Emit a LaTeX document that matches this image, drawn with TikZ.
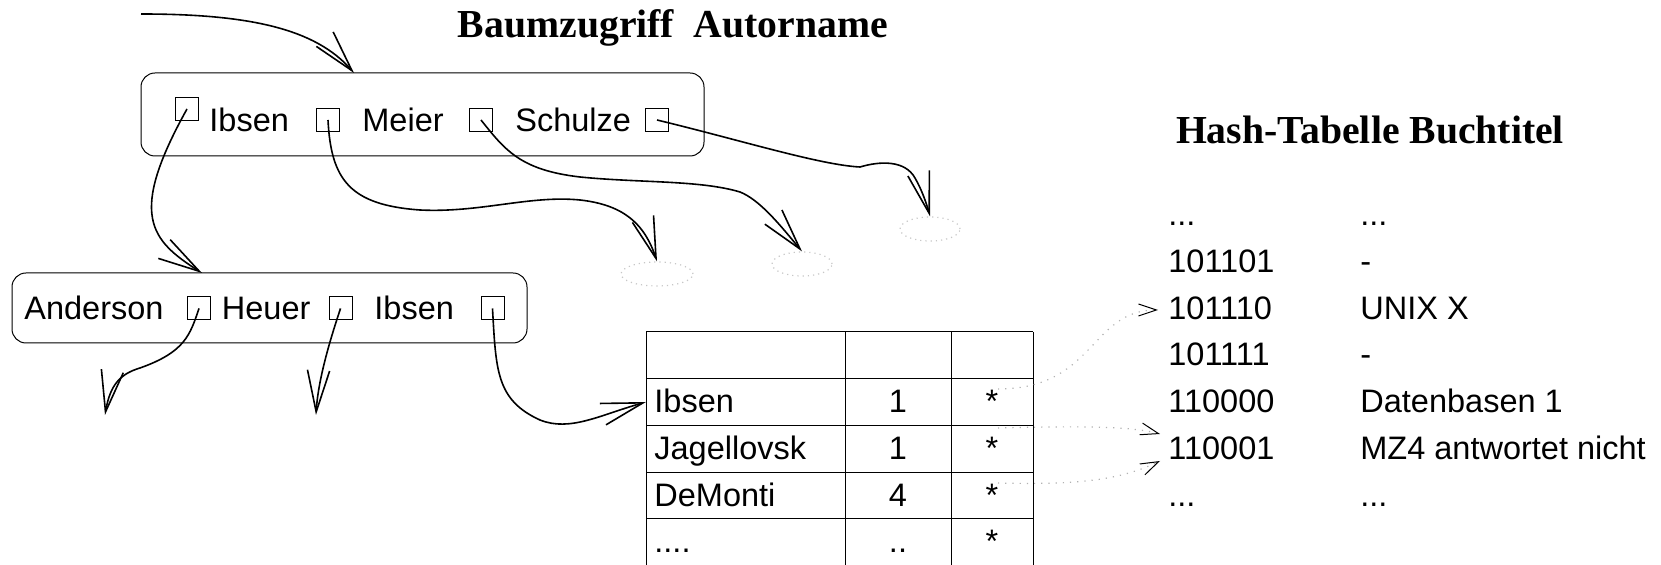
\documentclass[tikz,border=0pt]{standalone}
\usepackage{fontspec}
\setmainfont{Liberation Sans}
\newfontfamily\ttlfamily{Liberation Serif}
\usetikzlibrary{arrows.meta,shapes.geometric}
\newcommand\bodysz{\fontsize{16.25}{19}\selectfont}
\newcommand\ttlsz{\ttlfamily\bfseries\fontsize{19.85}{24}\selectfont}
\tikzset{
  box/.style={draw, line width=0.5pt, rounded corners=7pt, inner sep=0pt},
  ptr/.style={draw, line width=0.5pt, minimum size=11.5pt, inner sep=0pt},
  lbl/.style={anchor=base west, inner sep=0pt, font=\bodysz},
  num/.style={anchor=base, inner sep=0pt, font=\bodysz},
  ttl/.style={anchor=base, inner sep=0pt, font=\ttlsz},
  conn/.style={line width=0.8pt, -{Straight Barb[length=20.8pt,width=11.1pt]}},
  hashconn/.style={draw=black!30, line width=0.6pt, dash pattern=on 0.6pt off 3pt,
     -{Straight Barb[length=9pt,width=6pt,color=black,line width=0.5pt]}},
  ghost/.style={ellipse, draw=black!22, line width=0.6pt, dash pattern=on 0.6pt off 2pt,
     minimum height=12pt, inner sep=0pt},
  tabline/.style={line width=0.5pt},
}
\begin{document}
\begin{tikzpicture}[x=0.5pt,y=-0.5pt]
\useasboundingbox (0,0) rectangle (1661,565);
% titles
\node[ttl] (t1) at (673,38) {Baumzugriff\ \ Autorname};
\node[ttl] (t2) at (1370,144) {Hash-Tabelle Buchtitel};
% top box
\node[box, minimum width=281.5pt, minimum height=41.5pt] (tb) at (422.5,114.5) {};
\node[ptr] (ts1) at (187,109) {};
\node[ptr] (ts2) at (328,120) {};
\node[ptr] (ts3) at (481,120) {};
\node[ptr] (ts4) at (657,120) {};
\node[lbl] (tl1) at (209,132) {Ibsen};
\node[lbl] (tl2) at (362,132) {Meier};
\node[lbl] (tl3) at (515,132) {Schulze};
% lower box
\node[box, minimum width=257.5pt, minimum height=35pt] (lb) at (269.5,308) {};
\node[ptr] (ls1) at (199,308.5) {};
\node[ptr] (ls2) at (340.5,308.5) {};
\node[ptr] (ls3) at (492.5,308.5) {};
\node[lbl] (ll1) at (24,320) {Anderson};
\node[lbl] (ll2) at (221.5,320) {Heuer};
\node[lbl] (ll3) at (374,320) {Ibsen};
% ghost nodes
\node[ghost, minimum width=36pt] (e1) at (657,274) {};
\node[ghost, minimum width=30pt] (e2) at (802,264) {};
\node[ghost, minimum width=30pt] (e3) at (930,229) {};
% coordinates
\coordinate (start) at (141,14);
\coordinate (entry) at (354,73);
\coordinate (tip1) at (202,273);
\coordinate (ltip1) at (105,415);
\coordinate (ltip2) at (316,415);
\coordinate (tabIbsen) at (646,402);
% connectors
\draw[conn] (start) .. controls (250,14) and (316,29) .. (entry);
\draw[conn] (ts1.center) .. controls (128,215) and (150,240) .. (tip1);
\draw[conn] (ts2.center) .. controls (331,180) and (350,205) .. (420,210)
   .. controls (480,213) and (530,195) .. (580,200)
   .. controls (625,205) and (645,225) .. (e1.north);
\draw[conn] (ts3.center) .. controls (505,150) and (520,170) .. (580,177)
   .. controls (640,183) and (700,180) .. (740,192)
   .. controls (760,200) and (780,225) .. (e2.north);
\draw[conn] (ts4.center) .. controls (740,140) and (820,165) .. (860,167)
   .. controls (880,161) and (905,160) .. (915,178)
   .. controls (922,190) and (927,205) .. (e3.north);
\draw[conn] (ls1.center) .. controls (190,335) and (185,352) .. (140,368)
   .. controls (120,374) and (110,385) .. (ltip1);
\draw[conn] (ls2.center) .. controls (330,340) and (318,380) .. (ltip2);
\draw[conn] (ls3.center) .. controls (496,370) and (496,400) .. (540,420)
   .. controls (570,432) and (600,415) .. (tabIbsen);
% table
\foreach \y in {332,379,426,473,519} \draw[tabline] (646,\y) -- (1033,\y);
\foreach \x in {646,845,951,1033} \draw[tabline] (\x,332) -- (\x,565);
\node[lbl] (r1a) at (654,413) {Ibsen};
\node[num] (r1b) at (898,413) {1};
\node[num] (r1c) at (992,413) {*};
\node[lbl] (r2a) at (654,460) {Jagellovsk};
\node[num] (r2b) at (898,460) {1};
\node[num] (r2c) at (992,460) {*};
\node[lbl] (r3a) at (654,507) {DeMonti};
\node[num] (r3b) at (898,507) {4};
\node[num] (r3c) at (992,507) {*};
\node[lbl] (r4a) at (654,553) {....};
\node[num] (r4b) at (898,553) {..};
\node[num] (r4c) at (992,553) {*};
% hash table
\node[lbl] (h0a) at (1168,226) {...};
\node[lbl] (h0b) at (1360,226) {...};
\node[lbl] (h1a) at (1168,273) {101101};
\node[lbl] (h1b) at (1360,273) {-};
\node[lbl] (h2a) at (1168,320) {101110};
\node[lbl] (h2b) at (1360,320) {UNIX X};
\node[lbl] (h3a) at (1168,366) {101111};
\node[lbl] (h3b) at (1360,366) {-};
\node[lbl] (h4a) at (1168,413) {110000};
\node[lbl] (h4b) at (1360,413) {Datenbasen 1};
\node[lbl] (h5a) at (1168,460) {110001};
\node[lbl] (h5b) at (1360,460) {MZ4 antwortet nicht};
\node[lbl] (h6a) at (1168,507) {...};
\node[lbl] (h6b) at (1360,507) {...};
% dotted references
\coordinate (d1) at (998,389);
\coordinate (d2) at (998,428);
\coordinate (d3) at (998,483);
\coordinate (k1) at (1158,310);
\coordinate (k2) at (1160,434);
\coordinate (k3) at (1160,461);
\draw[hashconn] (d1) .. controls (1095,389) and (1090,310) .. (k1);
\draw[hashconn] (d2) .. controls (1080,426) and (1130,426) .. (k2);
\draw[hashconn] (d3) .. controls (1080,485) and (1120,480) .. (k3);
\end{tikzpicture}
\end{document}
